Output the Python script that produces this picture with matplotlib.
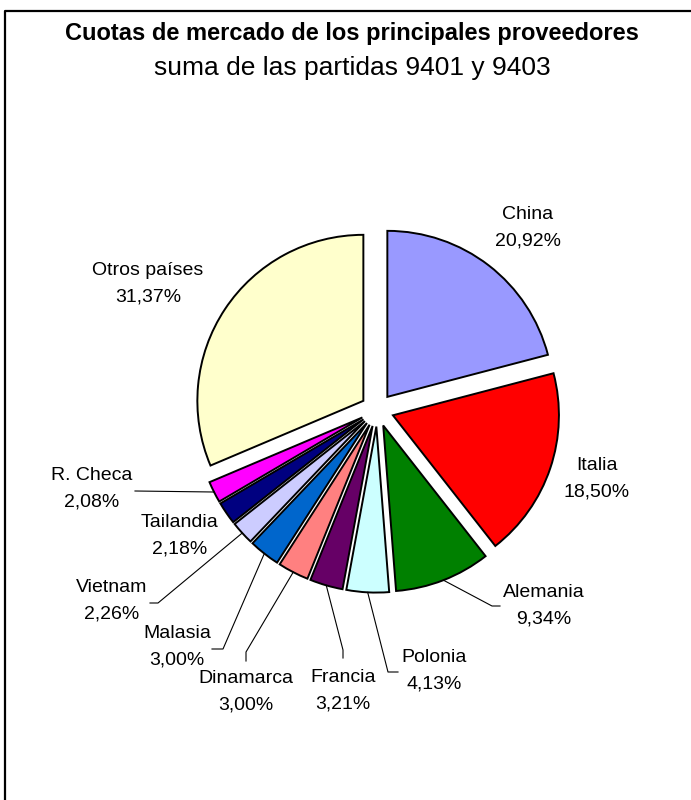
import numpy as np
import matplotlib.pyplot as plt
from matplotlib.lines import Line2D

# datos
paises = ["China", "Italia", "Alemania", "Polonia", "Francia", "Dinamarca",
          "Malasia", "Vietnam", "Tailandia", "R. Checa", "Otros países"]
cuotas = [20.92, 18.50, 9.34, 4.13, 3.21, 3.00, 3.00, 2.26, 2.18, 2.08, 31.37]
colores = ["#9999FF", "#FF0000", "#008000", "#CCFFFF", "#660066", "#FF8080",
           "#0066CC", "#CCCCFF", "#000080", "#FF00FF", "#FFFFCC"]

titulo = "Cuotas de mercado de los principales proveedores"
subtitulo = "suma de las partidas 9401 y 9403"

# =====================================================
# geometria en pixeles (691 x 800)
# =====================================================
W, H = 691, 800
CX, CY, R = 377.2, 410.0, 166.0


def px(x, y):
    return (x - CX) / R, (CY - y) / R


# posicion de las etiquetas (centro del bloque de 2 lineas)
pos_etiquetas = {
    "China": (528, 228), "Italia": (597, 479), "Alemania": (544, 606),
    "Polonia": (434, 671), "Francia": (343, 691), "Dinamarca": (246, 692),
    "Malasia": (177, 647), "Vietnam": (112, 601), "Tailandia": (180, 536),
    "R. Checa": (92, 489), "Otros países": (148, 284),
}
# puntos de las lineas guia (despues del borde del sector)
guias = {
    "Alemania": [(492, 606), (500, 606)],
    "Polonia": [(388, 672), (398, 672)],
    "Francia": [(343, 650), (343, 658)],
    "Dinamarca": [(246, 652), (246, 661)],
    "Malasia": [(223, 649), (212, 649)],
    "Vietnam": [(158, 603), (150, 603)],
    "R. Checa": [(135, 491)],
}

fig = plt.figure(figsize=(W / 100, H / 100), dpi=100)
ax = fig.add_axes([0, 0, 1, 1])

wedges, _ = ax.pie(
    cuotas, colors=colores, explode=[0.1] * len(cuotas),
    startangle=90, counterclock=False,
    wedgeprops=dict(edgecolor="black", linewidth=1.4)
)

ax.set_xlim(-CX / R, (W - CX) / R)
ax.set_ylim(-(H - CY) / R, CY / R)
ax.set_aspect("equal")
ax.axis("off")

# ===== etiquetas =====
for w, nombre, val in zip(wedges, paises, cuotas):
    txt = f"{nombre}\n" + f"{val:.2f}%".replace(".", ",")
    x, y = px(*pos_etiquetas[nombre])
    ax.text(x, y, txt, ha="center", va="center", fontsize=14,
            family="Liberation Sans", linespacing=1.75)

    if nombre in guias:
        ang = np.deg2rad((w.theta1 + w.theta2) / 2)
        x0 = w.center[0] + np.cos(ang)
        y0 = w.center[1] + np.sin(ang)
        pts = [px(*p) for p in guias[nombre]]
        xs = [x0] + [p[0] for p in pts]
        ys = [y0] + [p[1] for p in pts]
        ax.plot(xs, ys, color="black", linewidth=0.8)

# ===== titulo =====
fig.text(352 / W, 1 - 40 / H, titulo, ha="center", va="baseline",
         fontsize=17, fontweight="bold", family="Liberation Sans")
fig.text(352 / W, 1 - 75 / H, subtitulo, ha="center", va="baseline",
         fontsize=19, family="Liberation Sans")

# ===== marco =====
fig.add_artist(Line2D([5.5 / W, 5.5 / W, 1], [0, 1 - 10.5 / H, 1 - 10.5 / H],
                      transform=fig.transFigure, color="black", linewidth=1.6))

fig.savefig("out.png", dpi=100)
